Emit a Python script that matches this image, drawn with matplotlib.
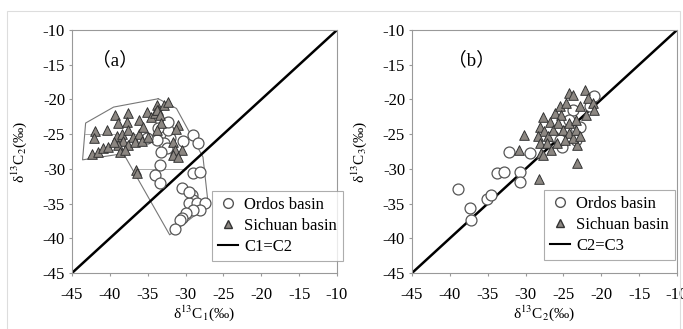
import matplotlib.pyplot as plt
from matplotlib.lines import Line2D

plt.rcParams['font.family'] = ['Liberation Serif', 'Noto Sans CJK SC', 'DejaVu Serif']
plt.rcParams['mathtext.fontset'] = 'stix'
plt.rcParams['axes.unicode_minus'] = False

# panel (a): delta13C1 vs delta13C2
ordos_a_x = [-29.0, -28.3, -30.3, -32.5, -32.7, -32.1, -32.9, -32.5, -33.2, -33.8, -32.3, -33.6,
             -35.1, -33.4, -34.0, -33.4, -29.0, -28.1, -30.5, -29.2, -29.0, -29.6, -28.5, -27.4,
             -28.1, -29.0, -29.9, -30.5, -30.8, -31.4, -29.5, -32.3]
ordos_a_y = [-25.1, -26.3, -26.0, -23.4, -24.8, -25.6, -26.3, -27.0, -27.5, -25.8, -24.4, -24.1,
             -25.6, -29.5, -30.9, -32.1, -30.6, -30.5, -32.7, -33.8, -34.5, -34.9, -34.9, -34.9,
             -35.9, -35.9, -36.4, -37.1, -37.3, -38.6, -33.3, -23.2]
sichuan_a_x = [-39.3, -37.6, -38.9, -37.8, -35.1, -36.2, -33.8, -42.0, -42.1, -40.4, -42.3, -41.5,
               -40.9, -40.2, -39.1, -38.4, -38.2, -37.6, -36.9, -36.2, -35.6, -38.9, -39.5, -37.6,
               -36.7, -35.8, -34.9, -34.5, -34.0, -33.6, -38.7, -38.0, -32.9, -32.3, -33.8, -33.4,
               -31.0, -31.2, -33.2, -31.6, -31.4, -30.5, -31.6, -31.0, -33.8, -36.5, -36.4]
sichuan_a_y = [-22.2, -21.9, -23.4, -23.2, -21.8, -23.0, -20.8, -24.6, -25.6, -24.4, -27.8, -27.5,
               -27.0, -26.8, -25.3, -25.0, -26.0, -24.4, -25.4, -25.0, -24.0, -26.5, -26.2, -26.5,
               -26.2, -26.0, -25.4, -22.5, -22.0, -21.5, -27.5, -27.3, -20.8, -20.3, -21.5, -22.2,
               -23.7, -24.2, -23.4, -26.2, -27.3, -27.3, -28.0, -28.3, -24.4, -30.2, -30.6]
hull_a_x = [-33.6, -31.2, -27.7, -27.0, -32.1, -38.2, -43.6, -43.2, -39.5, -33.6]
hull_a_y = [-19.9, -21.3, -28.3, -35.2, -39.5, -27.8, -28.7, -23.4, -21.1, -19.9]

# panel (b): delta13C2 vs delta13C3
ordos_b_x = [-38.9, -33.8, -32.8, -37.4, -37.2, -35.1, -34.5, -30.7, -30.8, -29.4, -32.2,
             -25.2, -20.9, -22.8, -23.7, -24.2, -24.6, -26.4, -25.5, -23.3, -21.5]
ordos_b_y = [-32.95, -30.6, -30.4, -35.7, -37.3, -34.4, -33.8, -30.4, -31.9, -27.7, -27.5,
             -26.8, -19.5, -23.9, -21.5, -22.9, -24.6, -25.3, -25.8, -25.8, -21.0]
sichuan_b_x = [-30.2, -30.9, -28.2, -28.0, -23.2, -23.2, -24.2, -23.7, -22.2, -21.7, -21.1,
               -20.9, -22.0, -27.7, -28.1, -27.5, -26.8, -26.1, -25.5, -25.3, -24.6, -27.0,
               -26.4, -25.7, -25.0, -24.2, -23.7, -28.3, -28.1, -27.2, -25.9, -24.8, -24.2,
               -23.3, -22.8, -23.4, -22.8, -26.6, -27.7]
sichuan_b_y = [-25.1, -27.3, -31.5, -27.7, -29.2, -26.5, -19.1, -19.3, -18.6, -19.8, -20.5,
               -21.5, -22.2, -22.5, -23.9, -24.6, -23.2, -22.0, -21.0, -22.2, -20.5, -25.3,
               -24.4, -23.4, -24.4, -24.9, -25.6, -25.3, -26.3, -26.3, -26.3, -25.8, -23.4,
               -22.9, -21.0, -24.4, -25.3, -27.3, -28.0]

ticks = [-45, -40, -35, -30, -25, -20, -15, -10]

fig = plt.figure(figsize=(6.83, 3.29), dpi=100)
fig.patches.append(plt.Rectangle((0.010, -0.01), 0.985, 0.977, transform=fig.transFigure,
                                 fill=False, edgecolor='#dddddd', linewidth=0.8))

panels = [
    (0.1054, ordos_a_x, ordos_a_y, sichuan_a_x, sichuan_a_y, '（a）', (-42.3, -14.3), 'C1=C2',
     'δ$^{13}$C$_1$(‰)', 'δ$^{13}$C$_2$(‰)', (0.53, 0.05)),
    (0.6032, ordos_b_x, ordos_b_y, sichuan_b_x, sichuan_b_y, '（b）', (-40.2, -14.3), 'C2=C3',
     'δ$^{13}$C$_2$(‰)', 'δ$^{13}$C$_3$(‰)', (0.5, 0.055)),
]

for left, ox, oy, sx, sy, tag, tag_xy, line_lbl, xlab, ylab, leg_pos in panels:
    ax = fig.add_axes([left, 0.1702, 0.388, 0.7386])
    if 'a' in tag:
        ax.plot(hull_a_x, hull_a_y, color='#777777', lw=0.8, zorder=1)
        ax.plot([-43.3, -36.0], [-25.0, -25.0], color='#aaaaaa', lw=0.7, zorder=1)
        ax.plot([-36.8, -30.0], [-30.0, -30.0], color='#aaaaaa', lw=0.7, zorder=1)
    ax.plot([-45, -10], [-45, -10], color='black', lw=1.8, zorder=2)
    ax.scatter(ox, oy, s=62, marker='o', facecolor='white', edgecolor='#555555',
               linewidths=0.9, zorder=3)
    ax.scatter(sx, sy, s=48, marker='^', facecolor='#8c8782', edgecolor='#333333',
               linewidths=0.7, zorder=4)
    ax.set_xlim(-45, -10)
    ax.set_ylim(-45, -10)
    ax.set_xticks(ticks)
    ax.set_yticks(ticks)
    ax.tick_params(labelsize=12, length=2, color='#999999')
    ax.tick_params(axis='x', pad=8)
    ax.tick_params(axis='y', pad=3)
    for sp in ax.spines.values():
        sp.set_color('#999999')
        sp.set_linewidth(0.8)
    ax.set_xlabel(xlab, fontsize=11, labelpad=0)
    ax.set_ylabel(ylab, fontsize=11, labelpad=10)
    ax.text(tag_xy[0], tag_xy[1], tag, fontsize=13.5, ha='left', va='center')
    handles = [
        Line2D([], [], ls='none', marker='o', markersize=7, markerfacecolor='white',
               markeredgecolor='#555555'),
        Line2D([], [], ls='none', marker='^', markersize=5.5, markerfacecolor='#8c8782',
               markeredgecolor='#333333'),
        Line2D([], [], color='black', lw=1.5),
    ]
    leg = ax.legend(handles, ['Ordos basin', 'Sichuan basin', line_lbl], loc='lower left',
                    bbox_to_anchor=leg_pos, fontsize=12, frameon=True, fancybox=False,
                    edgecolor='#999999', handlelength=1.2, handletextpad=0.35,
                    labelspacing=0.3, borderpad=0.35, borderaxespad=0)
    leg.get_frame().set_linewidth(0.8)

fig.savefig('out.png', dpi=100)
